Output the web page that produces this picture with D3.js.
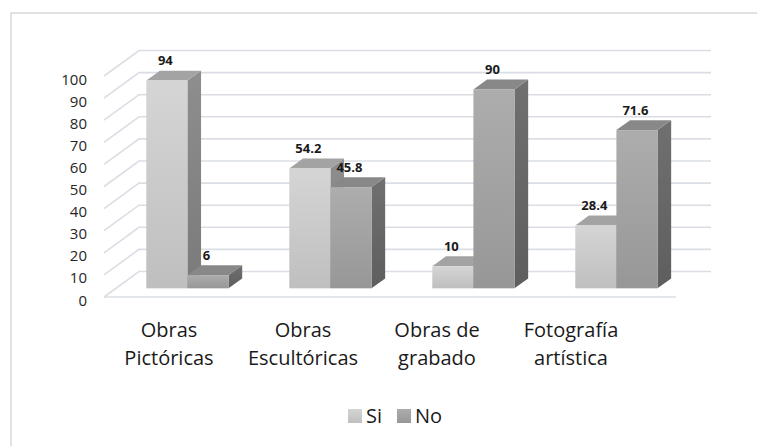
<!DOCTYPE html>
<meta charset="utf-8">
<style>
  body {
    margin: 0;
    font-family: 'Open Sans', sans-serif;
    background: #fff;
  }

  .tick-label {
    font-size: 15px;
    fill: #262626;
  }

  .cat-label {
    font-size: 20px;
    fill: #1a1a1a;
  }

  .value-label {
    font-size: 13px;
    font-weight: bold;
    fill: #1a1a1a;
  }

  .grid {
    fill: none;
    stroke: #dadee4;
    stroke-width: 1.6;
  }
</style>

<body>
  <div id="chart"></div>
  <script src="https://d3js.org/d3.v7.min.js"></script>

  <script>
    // data
    var categories = ["Obras Pictóricas", "Obras Escultóricas", "Obras de grabado", "Fotografía artística"];
    var catLines = [["Obras", "Pictóricas"], ["Obras", "Escultóricas"], ["Obras de", "grabado"], ["Fotografía", "artística"]];
    var series = ["Si", "No"];
    var siValues = [94, 54.2, 10, 28.4];
    var noValues = [6, 45.8, 90, 71.6];
    var yTicks = [0, 10, 20, 30, 40, 50, 60, 70, 80, 90, 100];

    var width = 757,
      height = 446;

    // 3d depth of the plot box
    var depthX = 35,
      depthY = 25.5;
    // bars sit in the middle of the depth
    var zFront = 0.34,
      zBack = 0.73;

    var svg = d3.select("#chart")
      .append("svg")
      .attr("width", width)
      .attr("height", height);

    // chart area border (cut by the picture on right and bottom)
    svg.append("rect")
      .attr("x", 11)
      .attr("y", 13)
      .attr("width", 780)
      .attr("height", 480)
      .attr("fill", "none")
      .attr("stroke", "#d9d9d9")
      .attr("stroke-width", 1.5);

    var xScale0 = d3.scaleBand()
      .domain(categories)
      .range([104, 676])
      .paddingInner(0.425)
      .paddingOuter(0.2125);
    var xScale1 = d3.scaleBand()
      .domain(series)
      .range([0, xScale0.bandwidth()]);
    var yScale = d3.scaleLinear()
      .domain([0, 100])
      .range([297, 76]);

    // label positions run a little tighter than the floor
    var xLabel = d3.scalePoint()
      .domain(categories)
      .range([169, 571]);

    var x0 = xScale0.range()[0],
      x1 = xScale0.range()[1];

    // back wall gridlines and side wall diagonals
    var grid = svg.append("g");
    yTicks.forEach(function(t) {
      var yf = yScale(t);
      grid.append("path")
        .attr("class", "grid")
        .attr("d", "M" + x0 + "," + yf + "L" + (x0 + depthX) + "," + (yf - depthY) +
          "L" + (x1 + depthX) + "," + (yf - depthY));
    });
    // floor front edge
    grid.append("path")
      .attr("class", "grid")
      .attr("d", "M" + x0 + "," + yScale(0) + "L" + x1 + "," + yScale(0));

    // y tick labels
    svg.selectAll(".tick-label")
      .data(yTicks)
      .enter().append("text")
      .attr("class", "tick-label")
      .attr("x", 87)
      .attr("y", d => yScale(d) + 2.5)
      .attr("text-anchor", "end")
      .attr("dominant-baseline", "central")
      .text(d => d);

    // gradients
    var defs = svg.append("defs");

    function grad(id, top, bottom) {
      var g = defs.append("linearGradient")
        .attr("id", id)
        .attr("x1", 0).attr("y1", 0)
        .attr("x2", 0).attr("y2", 1);
      g.append("stop").attr("offset", "0%").attr("stop-color", top);
      g.append("stop").attr("offset", "100%").attr("stop-color", bottom);
    }
    grad("siFront", "#d5d5d5", "#bfbfbf");
    grad("siSide", "#8e8e8e", "#7a7a7a");
    grad("noFront", "#adadad", "#979797");
    grad("noSide", "#707070", "#5e5e5e");

    var colors = {
      Si: { front: "url(#siFront)", side: "url(#siSide)", top: "#a3a3a3" },
      No: { front: "url(#noFront)", side: "url(#noSide)", top: "#888888" }
    };

    var rows = categories.map((c, i) => ({ cat: c, Si: siValues[i], No: noValues[i] }));

    var fx = zFront * depthX,
      fy = zFront * depthY,
      bx = zBack * depthX,
      by = zBack * depthY;

    function pt(x, y) {
      return x + "," + y;
    }

    var bars = svg.append("g");
    rows.forEach(function(d) {
      series.forEach(function(s) {
        var v = d[s];
        var left = xScale0(d.cat) + xScale1(s);
        var right = left + xScale1.bandwidth();
        var yb = yScale(0),
          yt = yScale(v);
        var c = colors[s];

        // side face
        bars.append("polygon")
          .attr("points", [pt(right + fx, yt - fy), pt(right + bx, yt - by), pt(right + bx, yb - by), pt(right + fx, yb - fy)].join(" "))
          .attr("fill", c.side);
        // top face
        bars.append("polygon")
          .attr("points", [pt(left + fx, yt - fy), pt(right + fx, yt - fy), pt(right + bx, yt - by), pt(left + bx, yt - by)].join(" "))
          .attr("fill", c.top);
        // front face
        bars.append("rect")
          .attr("x", left + fx)
          .attr("y", yt - fy)
          .attr("width", right - left)
          .attr("height", yb - yt)
          .attr("fill", c.front);

        // value label
        svg.append("text")
          .attr("class", "value-label")
          .attr("x", (left + right) / 2 + fx - 1.5)
          .attr("y", yt - by - 5.5)
          .attr("text-anchor", "middle")
          .text(v);
      });
    });

    // category labels, two lines each
    var cat = svg.selectAll(".cat-label")
      .data(categories)
      .enter().append("text")
      .attr("class", "cat-label")
      .attr("text-anchor", "middle");
    cat.each(function(d, i) {
      var t = d3.select(this);
      catLines[i].forEach(function(line, j) {
        t.append("tspan")
          .attr("x", xLabel(d))
          .attr("y", 337 + j * 28)
          .text(line);
      });
    });

    // legend
    var legend = svg.append("g");
    var legendX = [348, 397];
    series.forEach(function(s, i) {
      legend.append("rect")
        .attr("x", legendX[i])
        .attr("y", 409)
        .attr("width", 14)
        .attr("height", 14)
        .attr("fill", colors[s].front);
      legend.append("text")
        .attr("class", "cat-label")
        .attr("x", legendX[i] + 18)
        .attr("y", 423)
        .text(s);
    });
  </script>
</body>
